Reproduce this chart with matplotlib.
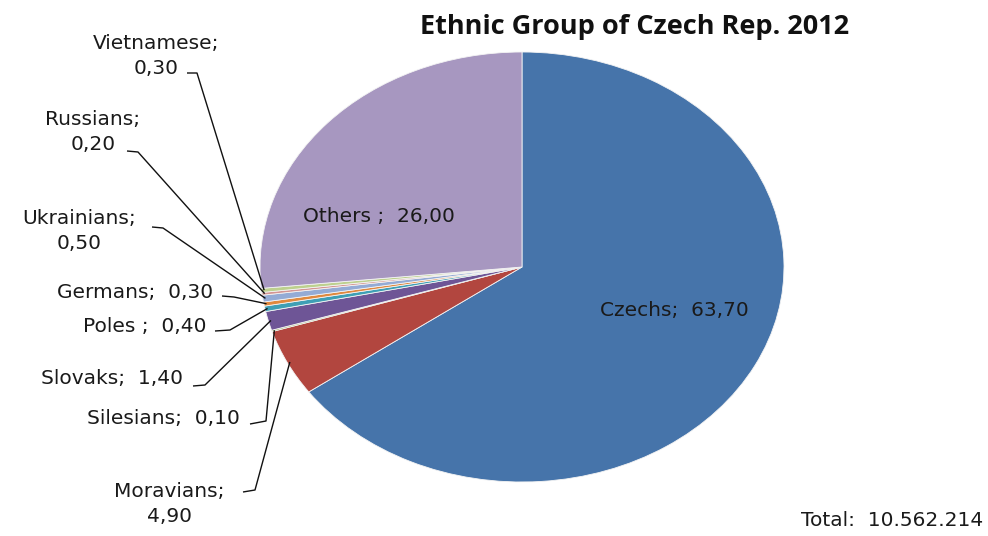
import matplotlib.pyplot as plt
import numpy as np

groups = ['Czechs', 'Moravians', 'Silesians', 'Slovaks', 'Poles', 'Germans',
          'Ukrainians', 'Russians', 'Vietnamese', 'Others']
shares = [63.70, 4.90, 0.10, 1.40, 0.40, 0.30, 0.50, 0.20, 0.30, 26.00]
colors = ['#4674AA', '#B2463F', '#8AAA4C', '#6E5596', '#3E9FB5', '#E0893E',
          '#94ABD5', '#D49593', '#BDD08E', '#A797C0']
total_label = 'Total:  10.562.214'
title = 'Ethnic Group of Czech Rep. 2012'

plt.rcParams['font.family'] = ['DejaVu Sans']

W, H = 988, 536
CX, CY, RX, RY = 522, 267, 262, 215   # pie centre / radii in pixels

fig = plt.figure(figsize=(W / 100, H / 100), dpi=100)
ax = fig.add_axes([0, 0, 1, 1])


def px(x, y):
    # pixel position -> data coords of the unit pie
    return (x - CX) / RX, (CY - y) / RY


wedges, _ = ax.pie(shares, colors=colors, startangle=90, counterclock=False,
                   wedgeprops=dict(edgecolor='#f4f4f4', linewidth=0.6))
ax.set_aspect('auto')
ax.set_xlim(px(0, 0)[0], px(W, 0)[0])
ax.set_ylim(px(0, H)[1], px(0, 0)[1])
ax.axis('off')

fmt = lambda v: f'{v:.2f}'.replace('.', ',')
fs = 14.5
tc = '#1a1a1a'

# labels inside the big slices
ax.text(*px(379, 217), f'{groups[9]} ;  {fmt(shares[9])}', ha='center', va='center',
        fontsize=fs, color=tc)
ax.text(*px(674, 311), f'{groups[0]};  {fmt(shares[0])}', ha='center', va='center',
        fontsize=fs, color=tc)

# outside labels: text, text anchor (px), line start (px), elbow (px), align
outside = {
    'Moravians':  (f'Moravians;\n4,90', (169, 504), (243, 492), (255, 490), 'center'),
    'Silesians':  (f'Silesians;  0,10', (240, 419), (250, 424), (266, 421), 'right'),
    'Slovaks':    (f'Slovaks;  1,40', (183, 379), (193, 386), (205, 385), 'right'),
    'Poles':      (f'Poles ;  0,40', (206, 327), (215, 331), (230, 330), 'right'),
    'Germans':    (f'Germans;  0,30', (213, 292), (222, 296), (234, 297), 'right'),
    'Ukrainians': (f'Ukrainians;\n0,50', (79, 231), (152, 227), (163, 228), 'center'),
    'Russians':   (f'Russians;\n0,20', (93, 132), (127, 151), (138, 152), 'center'),
    'Vietnamese': (f'Vietnamese;\n0,30', (156, 56), (187, 73), (197, 73), 'center'),
}

for name, (txt, tpos, p0, p1, align) in outside.items():
    i = groups.index(name)
    w = wedges[i]
    mid = np.deg2rad((w.theta1 + w.theta2) / 2)
    edge = (0.99 * np.cos(mid), 0.99 * np.sin(mid))
    ax.text(*px(*tpos), txt, ha=align, va='center', fontsize=fs, color=tc,
            multialignment='center', linespacing=1.4)
    xs = [px(*p0)[0], px(*p1)[0], edge[0]]
    ys = [px(*p0)[1], px(*p1)[1], edge[1]]
    ax.plot(xs, ys, color='#111111', lw=1.0, solid_capstyle='butt')

ax.text(*px(635, 27), title, ha='center', va='center', fontsize=19.5,
        fontweight='bold', color='#111111', family='Open Sans')
ax.text(*px(983, 521), total_label, ha='right', va='center', fontsize=fs, color=tc)

fig.savefig('out.png', dpi=100, facecolor='white')
